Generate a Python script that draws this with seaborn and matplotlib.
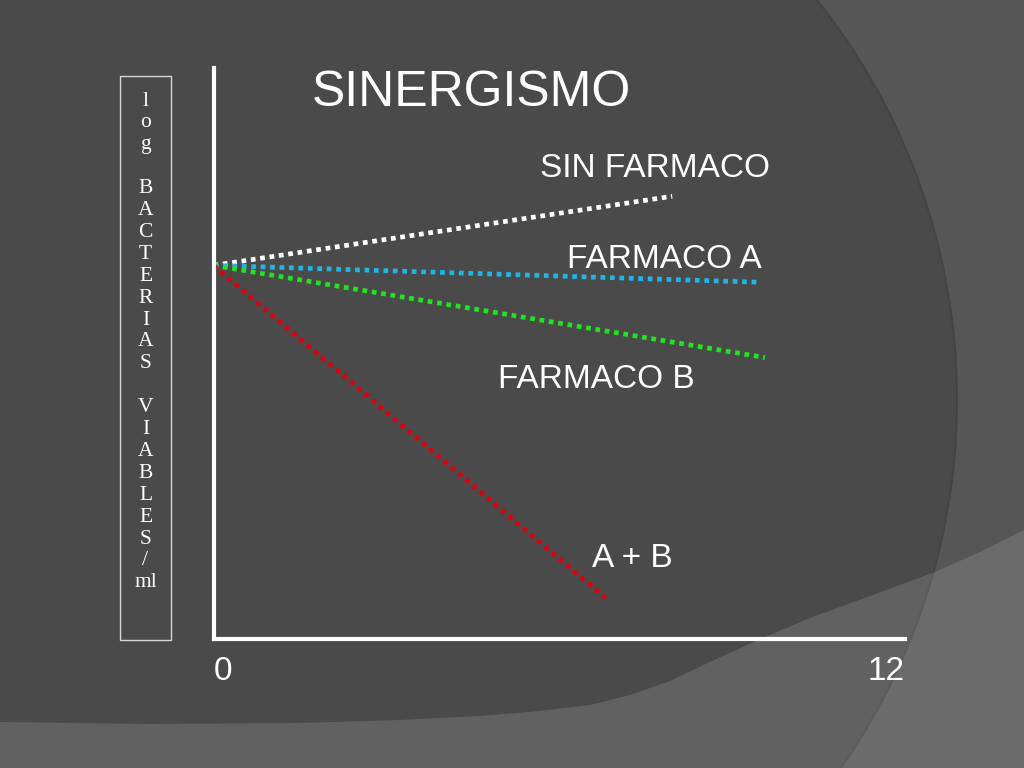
import numpy as np
import pandas as pd
import seaborn as sns
import matplotlib.pyplot as plt
from matplotlib.patches import Rectangle, Circle, Polygon

sns.set_theme(style="white")
plt.rcParams['font.family'] = ['Liberation Sans', 'DejaVu Sans']

# data: all curves start at the same log count at t=0
series = ["SIN FARMACO", "FARMACO A", "FARMACO B", "A + B"]
colors = ["#ffffff", "#1fb6e4", "#1fe41f", "#e00010"]
t_start = 0.0
t_end = [7.96, 9.45, 9.57, 6.80]
log_start = 6.0
log_end = [7.11, 5.73, 4.52, 0.66]

x_ticks = [0, 12]
x_ticklabels = ["0", "12"]

ylabel_lines = ["l", "o", "g", "", "B", "A", "C", "T", "E", "R", "I", "A", "S", "",
                "V", "I", "A", "B", "L", "E", "S", "/", "ml"]

rows = []
for name, te, le in zip(series, t_end, log_end):
    rows.append({"serie": name, "tiempo": t_start, "log": log_start})
    rows.append({"serie": name, "tiempo": te, "log": le})
df = pd.DataFrame(rows)

W, H = 1024, 768
fig = plt.figure(figsize=(W / 100, H / 100), dpi=100)

# slide background
bg = fig.add_axes([0, 0, 1, 1])
bg.set_xlim(0, W)
bg.set_ylim(H, 0)
bg.axis("off")
bg.add_patch(Rectangle((0, 0), W, H, color="#565656", zorder=0))
bg.add_patch(Circle((316, 400), 641, facecolor="#4a4a4a", edgecolor="#444444", lw=1.5, zorder=1))
curve = [(0, 722), (150, 724), (300, 723), (400, 720), (480, 716), (540, 711), (590, 705),
         (630, 695), (670, 681), (710, 662), (758, 640), (810, 618), (870, 596), (935, 572),
         (980, 552), (1024, 530), (1024, 768), (0, 768)]
bg.add_patch(Polygon(curve, closed=True, facecolor="white", alpha=0.13, edgecolor="none", zorder=2))
bg.add_patch(Rectangle((120, 76), 51, 564, fill=False, edgecolor="#d8d8d8", lw=1, zorder=3))

for i, s in enumerate(ylabel_lines):
    if s:
        fig.text(145.5 / W, 1 - (101 + i * 21.9) / H, s, color="white", fontsize=15.5,
                 family=["Liberation Serif", "DejaVu Serif"], ha="center", va="center")

ax = fig.add_axes([213.5 / W, (H - 639) / H, (905 - 213.5) / W, (639 - 68) / H])
ax.patch.set_alpha(0)

palette = dict(zip(series, colors))
sns.lineplot(data=df, x="tiempo", y="log", hue="serie", hue_order=series, palette=palette,
             legend=False, linewidth=3.4, linestyle=(0, (1.0, 1.0)), ax=ax)

ax.set_xlim(0, 12)
ax.set_ylim(0, 9.17)
for side in ["top", "right"]:
    ax.spines[side].set_visible(False)
for side in ["left", "bottom"]:
    ax.spines[side].set_color("white")
    ax.spines[side].set_linewidth(3)
ax.set_yticks([])
ax.set_xticks(x_ticks)
ax.set_xticklabels(x_ticklabels)
ax.tick_params(axis="x", length=0, pad=12, labelsize=24, labelcolor="white")
labels = ax.get_xticklabels()
labels[0].set_ha("left")
labels[1].set_ha("right")
ax.set_xlabel("")
ax.set_ylabel("")

fig.text(312 / W, 1 - 106 / H, "SINERGISMO", color="white", fontsize=36, ha="left", va="baseline")
fig.text(540 / W, 1 - 177 / H, "SIN FARMACO", color="white", fontsize=24, ha="left", va="baseline")
fig.text(567 / W, 1 - 268 / H, "FARMACO A", color="white", fontsize=24, ha="left", va="baseline")
fig.text(498 / W, 1 - 388 / H, "FARMACO B", color="white", fontsize=24, ha="left", va="baseline")
fig.text(592 / W, 1 - 567 / H, "A + B", color="white", fontsize=24, ha="left", va="baseline")

fig.savefig("out.png", dpi=100)
